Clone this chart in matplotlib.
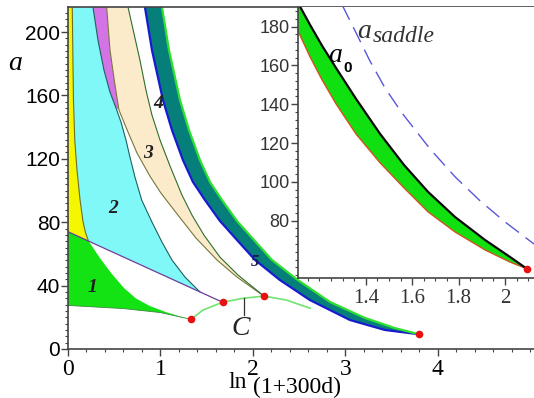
import matplotlib
matplotlib.use("Agg")
import matplotlib.pyplot as plt
from matplotlib.ticker import MultipleLocator, FixedLocator

# ---- main panel: region boundaries in (ln(1+300d), a) ----
A_TOP = 215.8

# straight boundary between regions 1 and 2
purple_x = [0.0, 1.672]
purple_y = [74.0, 29.5]

# yellow / cyan boundary
yel_x = [0.046, 0.052, 0.059, 0.073, 0.097, 0.130, 0.162, 0.189, 0.219]
yel_y = [A_TOP, 188.6, 157.1, 131.9, 113.1, 94.3, 80.4, 73.5, 68.5]

# right edge of region 2
cy_x = [0.270, 0.324, 0.389, 0.454, 0.519, 0.573, 0.627, 0.670, 0.724, 0.797,
        0.908, 1.016, 1.124, 1.265, 1.427]
cy_y = [A_TOP, 194.9, 176.0, 162.1, 152.1, 143.2, 131.9, 121.1, 108.5, 94.0,
        80.1, 67.5, 56.2, 45.4, 36.0]

# region 3: left and right edges
b3l_x = [0.418, 0.454, 0.508, 0.551, 0.649, 0.746, 0.886, 1.005, 1.189, 1.384, 1.611, 1.827, 2.119]
b3l_y = [A_TOP, 188.6, 166.6, 150.8, 136.9, 123.7, 109.1, 98.4, 84.5, 70.0, 56.2, 45.4, 33.4]
b3r_x = [0.649, 0.778, 0.843, 0.908, 0.995, 1.103, 1.232, 1.341, 1.470, 1.643, 1.838, 2.119]
b3r_y = [A_TOP, 182.3, 163.4, 147.6, 131.9, 115.5, 97.2, 84.5, 71.9, 58.0, 46.7, 33.4]

# teal band (region 5): blue and green edges
t1_x = [0.832, 0.908, 1.027, 1.124, 1.243, 1.351, 1.481, 1.643, 1.827, 2.022,
        2.292, 2.616, 3.049, 3.427, 3.795]
t1_y = [A_TOP, 188.6, 157.1, 138.2, 119.2, 105.4, 94.0, 80.8, 68.8, 56.2,
        43.5, 30.9, 18.3, 12.0, 9.3]
t2_x = [1.016, 1.092, 1.211, 1.308, 1.427, 1.535, 1.665, 1.827, 2.011, 2.205,
        2.486, 2.832, 3.211, 3.535, 3.795]
t2_y = [A_TOP, 188.6, 157.1, 138.2, 119.2, 105.4, 94.0, 80.8, 68.8, 56.2,
        43.5, 29.7, 19.6, 13.2, 9.3]

# region 1: upper-right edge and bottom edge
g_x = [0.219, 0.345, 0.475, 0.605, 0.735, 0.886, 1.059, 1.232, 1.330]
g_y = [68.5, 57.4, 47.3, 38.5, 31.9, 27.1, 23.3, 20.2, 18.7]
gb_x = [0.0, 0.600, 1.000, 1.330]
gb_y = [27.5, 25.5, 23.0, 18.7]

# curve C and its marked points
c_x = [1.330, 1.460, 1.672, 1.895, 2.119, 2.360, 2.620]
c_y = [18.7, 24.6, 29.5, 32.0, 33.4, 30.9, 25.7]
dots_x = [1.330, 1.672, 2.119, 3.795]
dots_y = [18.7, 29.5, 33.4, 9.3]

region_labels = ["1", "2", "3", "4", "5"]
region_lx = [0.26, 0.49, 0.868, 0.976, 2.02]
region_ly = [39.1, 88.8, 123.5, 155.0, 55.1]

# ---- inset: a0 band and saddle curve ----
a0_x = [1.108, 1.160, 1.212, 1.272, 1.358, 1.462, 1.565, 1.669, 1.785, 1.915, 2.022, 2.095]
a0_y = [192.2, 180.9, 170.1, 158.7, 142.8, 124.7, 108.7, 94.8, 81.9, 70.0, 61.3, 55.2]
lo_x = [1.108, 1.160, 1.212, 1.272, 1.358, 1.462, 1.565, 1.669, 1.785, 1.915, 2.022, 2.095]
lo_y = [177.8, 164.4, 152.5, 140.2, 124.7, 109.8, 96.9, 84.5, 74.2, 64.9, 58.7, 55.2]
sad_x = [1.298, 1.354, 1.418, 1.483, 1.556, 1.677, 1.785, 1.893, 2.000, 2.125]
sad_y = [191.2, 177.8, 162.3, 148.4, 135.5, 117.0, 102.6, 90.2, 79.4, 68.0]

SERIF = "Liberation Serif"
SANS = "Liberation Sans"

fig = plt.figure(figsize=(5.34, 3.98), dpi=100)
ax = fig.add_axes([68 / 534, 1 - 349 / 398, 466 / 534, 342 / 398])
ax.set_xlim(0, 5.04)
ax.set_ylim(0, A_TOP)

# filled regions
ax.fill([0, 0] + yel_x[::-1], [A_TOP, purple_y[0]] + yel_y[::-1], color="#f6f600", lw=0, zorder=1)
ax.fill(yel_x + cy_x[::-1], yel_y + cy_y[::-1], color="#80f8f8", lw=0, zorder=1)
ax.fill(cy_x[:5] + b3l_x[:4][::-1], cy_y[:5] + b3l_y[:4][::-1], color="#d473e6", lw=0, zorder=1)
ax.fill(b3l_x + b3r_x[::-1], b3l_y + b3r_y[::-1], color="#fbebcb", lw=0, zorder=1)
ax.fill([purple_x[0]] + g_x + gb_x[::-1][1:], [purple_y[0]] + g_y + gb_y[::-1][1:],
        color="#13e313", lw=0, zorder=1)
ax.fill(t1_x + t2_x[::-1], t1_y + t2_y[::-1], color="#067f7a", lw=0, zorder=1)

# boundary curves
ax.plot(yel_x, yel_y, color="#6f6f2c", lw=0.8, zorder=2)
ax.plot(cy_x, cy_y, color="#1f5f5f", lw=0.8, zorder=2)
ax.plot(b3l_x, b3l_y, color="#76763c", lw=0.8, zorder=2)
ax.plot(b3r_x, b3r_y, color="#2c6e2c", lw=0.8, zorder=2)
ax.plot(purple_x, purple_y, color="#6a3d9a", lw=0.9, zorder=2)
ax.plot(gb_x, gb_y, color="#3a8a3a", lw=0.6, zorder=2)
ax.plot(t1_x, t1_y, color="#1a1ad0", lw=1.6, zorder=2)
ax.plot(t2_x, t2_y, color="#2ee02e", lw=1.6, zorder=2)
ax.plot(c_x, c_y, color="#70e470", lw=1.2, zorder=3)
ax.plot([1.90, 1.90], [31.9, 21.5], color="#333333", lw=0.9, zorder=3)
ax.plot(dots_x, dots_y, "o", color="#e81010", ms=5.5, mec="none", zorder=4)

for s, lx, ly in zip(region_labels, region_lx, region_ly):
    fs = 12 if s == "5" else 14
    col = "#1a1a50" if s == "5" else "#202020"
    ax.text(lx, ly, s, fontsize=fs, family=SERIF, style="italic", weight="bold",
            ha="center", va="center", color=col, zorder=5)
ax.text(1.87, 13.2, "C", fontsize=20, family=SERIF, style="italic",
        ha="center", va="center", color="#222222", zorder=5)

# axes styling
ax.spines["right"].set_visible(False)
for side in ("left", "bottom", "top"):
    ax.spines[side].set_color("#444444")
    ax.spines[side].set_linewidth(1.2)
ax.xaxis.set_major_locator(FixedLocator([0, 1, 2, 3, 4]))
ax.xaxis.set_minor_locator(MultipleLocator(0.2))
ax.yaxis.set_major_locator(MultipleLocator(40))
ax.yaxis.set_minor_locator(MultipleLocator(4))
ax.tick_params(which="major", length=5, width=1, color="#444444")
ax.tick_params(which="minor", length=2.5, width=0.8, color="#444444")
ax.tick_params(axis="x", pad=2)
ax.tick_params(axis="y", pad=0.5)
for t in ax.get_xticklabels():
    t.set_fontfamily(SERIF)
    t.set_fontsize(17)
for t in ax.get_yticklabels():
    t.set_fontfamily(SANS)
    t.set_fontsize(15)

fig.text(15 / 534, 1 - 64 / 398, "a", fontsize=20, family=SERIF, style="italic",
         ha="center", va="center")
fig.text(238 / 534, 1 - 382 / 398, "ln", fontsize=17, family=SERIF, ha="center", va="center")
fig.text(297 / 534, 1 - 387 / 398, "(1+300d)", fontsize=17, family=SERIF, ha="center", va="center")

# ---- inset ----
ins = fig.add_axes([298 / 534, 1 - 278 / 398, 236 / 534, 271 / 398], zorder=5)
ins.set_facecolor("white")
ins.set_xlim(1.108, 2.125)
ins.set_ylim(50.5, 190.1)
ins.fill(a0_x + lo_x[::-1], a0_y + lo_y[::-1], color="#10e010", lw=0, zorder=1)
ins.plot(lo_x, lo_y, color="#d2501e", lw=1.0, zorder=2)
ins.plot(a0_x, a0_y, color="#0a0a0a", lw=1.6, zorder=2)
ins.plot(sad_x, sad_y, color="#5858dc", lw=1.0, dashes=(12, 6), zorder=2)
ins.plot([a0_x[-1]], [a0_y[-1]], "o", color="#e81010", ms=5.5, mec="none", zorder=3)

ins.text(1.3625, 174.2, "a", fontsize=20, family=SERIF, style="italic", color="#333333")
ins.text(1.428, 172.1, "saddle", fontsize=17, family=SERIF, style="italic", color="#333333")
ins.text(1.2375, 161.8, "a", fontsize=20, family=SERIF, style="italic", color="black")
ins.text(1.302, 156.7, "0", fontsize=11, family=SANS, weight="bold", color="black")

ins.spines["top"].set_visible(False)
ins.spines["right"].set_visible(False)
for side in ("left", "bottom"):
    ins.spines[side].set_color("#444444")
    ins.spines[side].set_linewidth(1.2)
ins.xaxis.set_major_locator(FixedLocator([1.4, 1.6, 1.8, 2.0]))
ins.xaxis.set_minor_locator(MultipleLocator(0.05))
ins.yaxis.set_major_locator(FixedLocator([80, 100, 120, 140, 160, 180]))
ins.yaxis.set_minor_locator(MultipleLocator(4))
ins.set_xticklabels(["1.4", "1.6", "1.8", "2"])
ins.tick_params(which="major", length=5, width=1, color="#444444")
ins.tick_params(which="minor", length=2.5, width=0.8, color="#444444")
ins.tick_params(axis="x", pad=3)
ins.tick_params(axis="y", pad=1)
for t in ins.get_xticklabels():
    t.set_fontfamily(SERIF)
    t.set_fontsize(15)
    t.set_color("#333333")
for t in ins.get_yticklabels():
    t.set_fontfamily(SANS)
    t.set_fontsize(13)
    t.set_color("#333333")

fig.savefig("out.png", dpi=100, facecolor="white")
